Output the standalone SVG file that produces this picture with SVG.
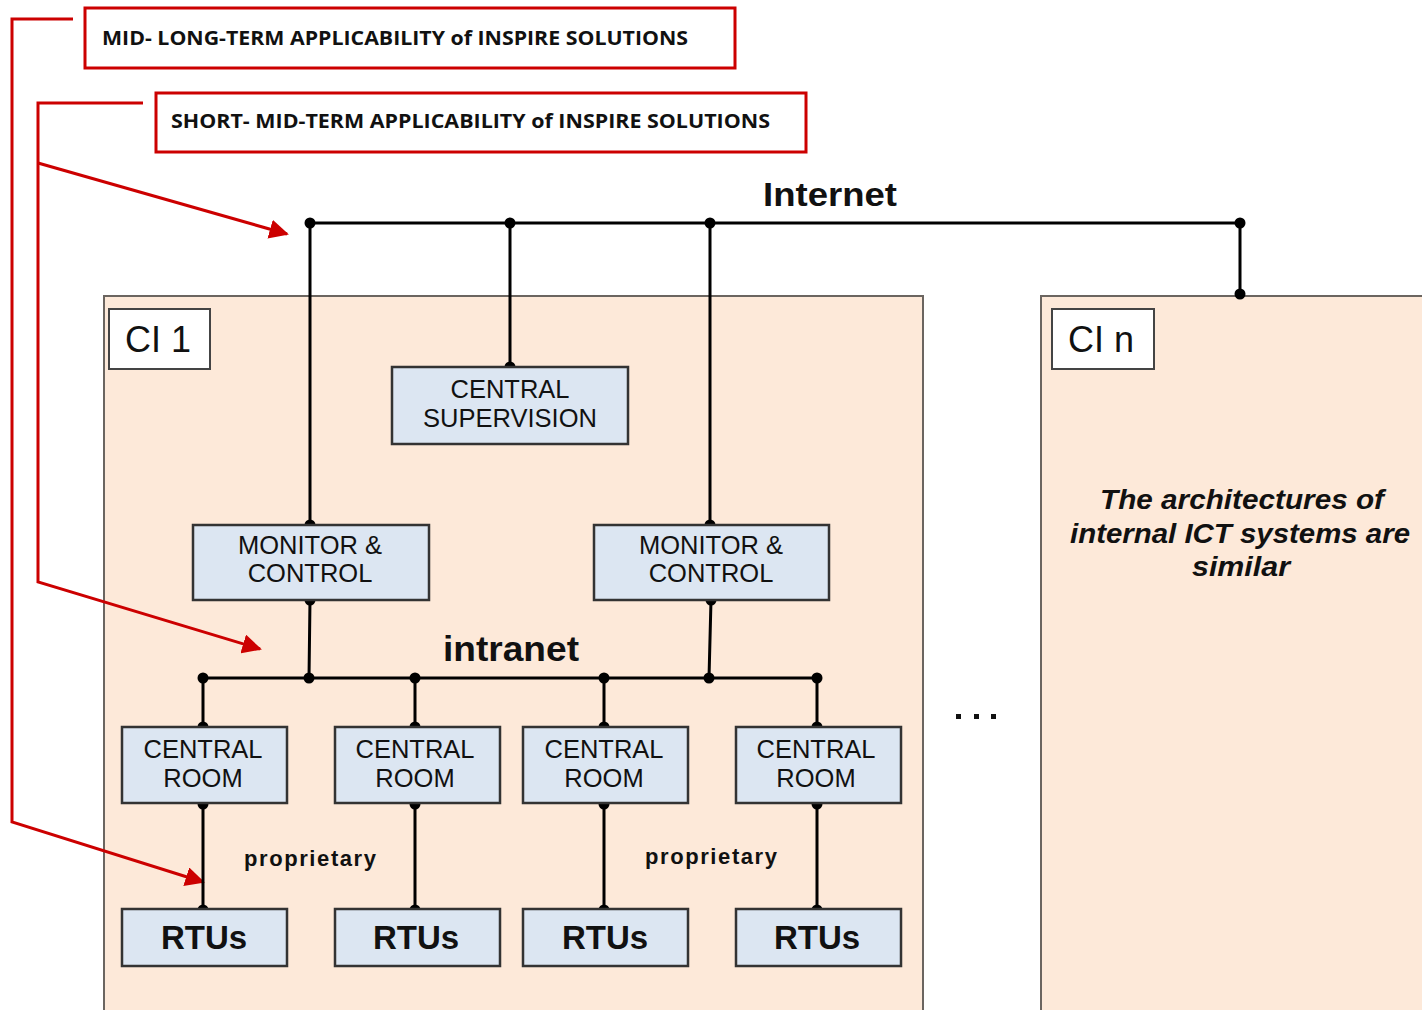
<svg xmlns="http://www.w3.org/2000/svg" width="1422" height="1010" viewBox="0 0 1422 1010">
<defs>
<style>
.ci{fill:#fde9d9;stroke:#6b6560;stroke-width:2}
.lbl{fill:#fff;stroke:#444;stroke-width:2}
.box{fill:#dce6f2;stroke:#333;stroke-width:2.5}
.t{font-family:"Liberation Sans",Arial,sans-serif;fill:#111;text-anchor:middle}
.bt{font-size:25.5px}
.rt{font-size:33px;font-weight:bold}
.hdr{fill:#fff;stroke:#cc0000;stroke-width:3}
.ht{font-family:"Open Sans","Liberation Sans",sans-serif;font-weight:bold;font-size:19px;fill:#111}
.red{fill:none;stroke:#cc0000;stroke-width:3}
.blk{fill:none;stroke:#000;stroke-width:3}
</style>
<marker id="ra" viewBox="0 0 10 10" refX="9" refY="5" markerWidth="6.5" markerHeight="6.5" orient="auto" markerUnits="strokeWidth">
<path d="M0,0 L10,5 L0,10 z" fill="#cc0000"/>
</marker>
</defs>
<rect width="1422" height="1010" fill="#fff"/>

<g id="ci1"><rect class="ci" x="104" y="296" width="819" height="720"/></g>
<g id="cin"><rect class="ci" x="1041" y="296" width="390" height="720"/></g>

<g id="hdr1"><rect class="hdr" x="85" y="8" width="650" height="60"/>
<text class="ht" x="102" y="45" textLength="586" lengthAdjust="spacingAndGlyphs">MID- LONG-TERM APPLICABILITY of INSPIRE SOLUTIONS</text></g>
<g id="hdr2"><rect class="hdr" x="156" y="93" width="650" height="59"/>
<text class="ht" x="171" y="128" textLength="599" lengthAdjust="spacingAndGlyphs">SHORT- MID-TERM APPLICABILITY of INSPIRE SOLUTIONS</text></g>

<g id="connectors">
<path class="red" d="M73,19 H12 V822 L203,882" marker-end="url(#ra)"/>
<path class="red" d="M143,103 H38 V582 L260,649" marker-end="url(#ra)"/>
<path class="red" d="M38,163 L287,234" marker-end="url(#ra)"/>
<path class="blk" d="M310,223 H1240"/>
<path class="blk" d="M310,223 V525 M510,223 V367 M710,223 V525 M1240,223 V295"/>
<path class="blk" d="M310,600 L309,678 M711,600 L709,678 M203,678 H817"/>
<path class="blk" d="M203,678 V727 M415,678 V727 M604,678 V727 M817,678 V727"/>
<path class="blk" d="M203,804 V910 M415,804 V910 M604,804 V910 M817,804 V910"/>
<g fill="#000">
<circle cx="310" cy="223" r="5.5"/><circle cx="510" cy="223" r="5.5"/><circle cx="710" cy="223" r="5.5"/><circle cx="1240" cy="223" r="5.5"/>
<circle cx="1240" cy="294" r="5.5"/><circle cx="510" cy="367" r="5.5"/><circle cx="310" cy="525" r="5.5"/><circle cx="710" cy="525" r="5.5"/>
<circle cx="310" cy="600" r="5.5"/><circle cx="711" cy="600" r="5.5"/>
<circle cx="203" cy="678" r="5.5"/><circle cx="309" cy="678" r="5.5"/><circle cx="415" cy="678" r="5.5"/><circle cx="604" cy="678" r="5.5"/><circle cx="709" cy="678" r="5.5"/><circle cx="817" cy="678" r="5.5"/>
<circle cx="203" cy="727" r="5.5"/><circle cx="415" cy="727" r="5.5"/><circle cx="604" cy="727" r="5.5"/><circle cx="817" cy="727" r="5.5"/>
<circle cx="203" cy="804" r="5.5"/><circle cx="415" cy="804" r="5.5"/><circle cx="604" cy="804" r="5.5"/><circle cx="817" cy="804" r="5.5"/>
<circle cx="203" cy="910" r="5.5"/><circle cx="415" cy="910" r="5.5"/><circle cx="604" cy="910" r="5.5"/><circle cx="817" cy="910" r="5.5"/>
</g>
</g>

<g id="lbl1"><rect class="lbl" x="109" y="309" width="101" height="60"/><text class="t" x="158" y="352" font-size="36">CI 1</text></g>
<g id="lbln"><rect class="lbl" x="1052" y="309" width="102" height="60"/><text class="t" x="1101" y="352" font-size="36">CI n</text></g>

<text class="t" x="830" y="206" font-size="34" font-weight="bold" textLength="134" lengthAdjust="spacingAndGlyphs">Internet</text>
<text class="t" x="511" y="661" font-size="35" font-weight="bold" textLength="136" lengthAdjust="spacingAndGlyphs">intranet</text>
<text class="t" x="310" y="866" font-size="22" font-weight="bold" textLength="132" lengthAdjust="spacing">proprietary</text>
<text class="t" x="711" y="864" font-size="22" font-weight="bold" textLength="132" lengthAdjust="spacing">proprietary</text>
<g id="dots" fill="#111"><rect x="956" y="714" width="5" height="5"/><rect x="974" y="714" width="5" height="5"/><rect x="991" y="714" width="5" height="5"/></g>

<g id="sup"><rect class="box" x="392" y="367" width="236" height="77"/>
<text class="t bt" x="510" y="398">CENTRAL</text><text class="t bt" x="510" y="427">SUPERVISION</text></g>
<g id="mc1"><rect class="box" x="193" y="525" width="236" height="75"/>
<text class="t bt" x="310" y="554">MONITOR &amp;</text><text class="t bt" x="310" y="582">CONTROL</text></g>
<g id="mc2"><rect class="box" x="594" y="525" width="235" height="75"/>
<text class="t bt" x="711" y="554">MONITOR &amp;</text><text class="t bt" x="711" y="582">CONTROL</text></g>

<g id="cr1"><rect class="box" x="122" y="727" width="165" height="76"/><text class="t bt" x="203" y="758">CENTRAL</text><text class="t bt" x="203" y="787">ROOM</text></g>
<g id="cr2"><rect class="box" x="335" y="727" width="165" height="76"/><text class="t bt" x="415" y="758">CENTRAL</text><text class="t bt" x="415" y="787">ROOM</text></g>
<g id="cr3"><rect class="box" x="523" y="727" width="165" height="76"/><text class="t bt" x="604" y="758">CENTRAL</text><text class="t bt" x="604" y="787">ROOM</text></g>
<g id="cr4"><rect class="box" x="736" y="727" width="165" height="76"/><text class="t bt" x="816" y="758">CENTRAL</text><text class="t bt" x="816" y="787">ROOM</text></g>

<g id="rtu1"><rect class="box" x="122" y="909" width="165" height="57"/><text class="t rt" x="204" y="949">RTUs</text></g>
<g id="rtu2"><rect class="box" x="335" y="909" width="165" height="57"/><text class="t rt" x="416" y="949">RTUs</text></g>
<g id="rtu3"><rect class="box" x="523" y="909" width="165" height="57"/><text class="t rt" x="605" y="949">RTUs</text></g>
<g id="rtu4"><rect class="box" x="736" y="909" width="165" height="57"/><text class="t rt" x="817" y="949">RTUs</text></g>

<g id="note" font-style="italic" font-weight="bold">
<text class="t" x="1242" y="509" font-size="28" textLength="284" lengthAdjust="spacingAndGlyphs">The architectures of</text>
<text class="t" x="1240" y="543" font-size="28" textLength="340" lengthAdjust="spacingAndGlyphs">internal ICT systems are</text>
<text class="t" x="1241" y="576" font-size="28" textLength="98" lengthAdjust="spacingAndGlyphs">similar</text>
</g>
</svg>
